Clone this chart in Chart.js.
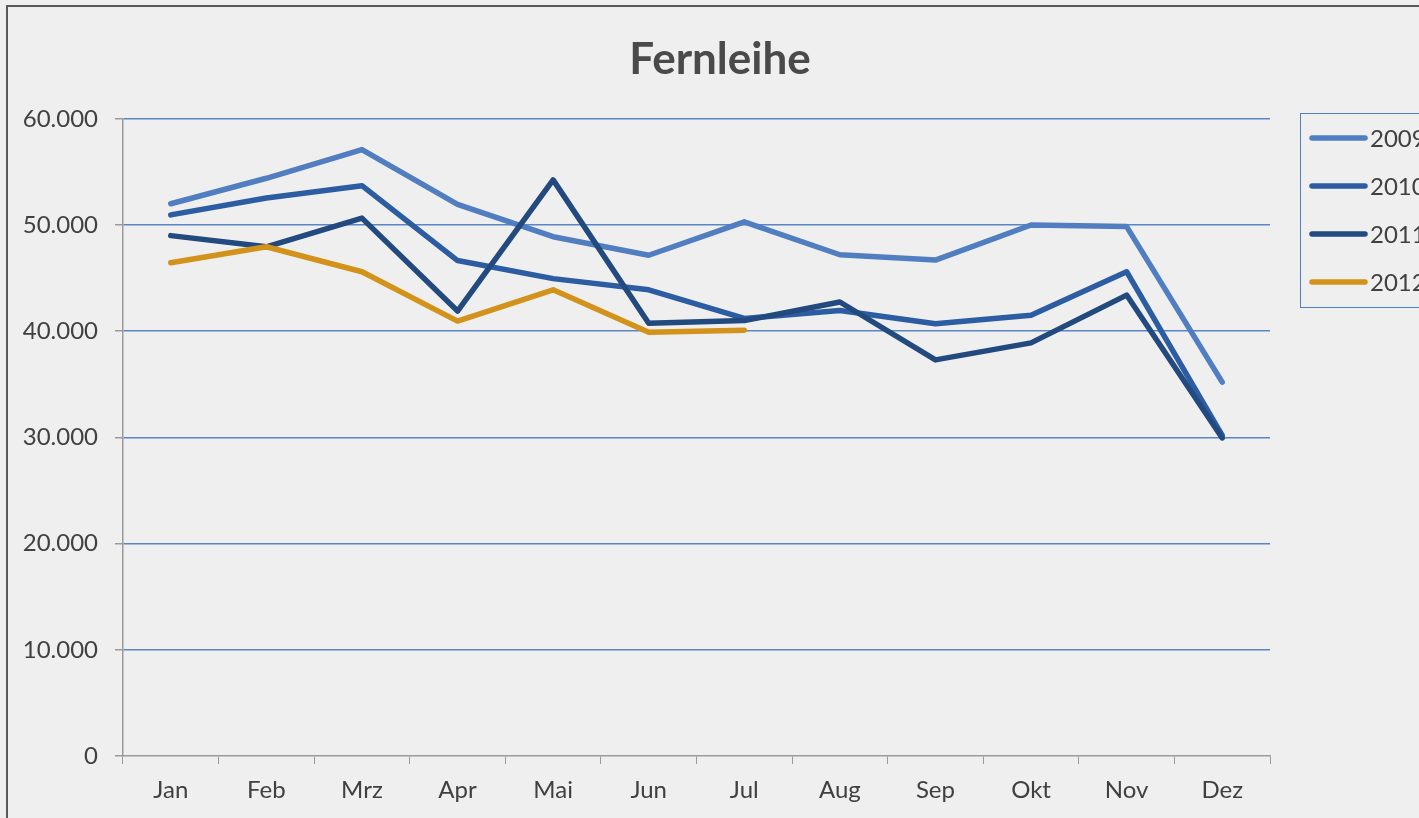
<!DOCTYPE html>
<html>
<head>
<meta charset="utf-8">
<title>Fernleihe</title>
<script src="https://cdn.jsdelivr.net/npm/chart.js@4.4.0/dist/chart.umd.min.js"></script>
<style>
    html, body { margin: 0; padding: 0; background: #efefef; overflow: hidden; }
    #wrap { position: absolute; left: 0; top: 0; width: 1440px; height: 830px; }
</style>
</head>
<body>
<div id="wrap"><canvas id="chart" width="1440" height="830"></canvas></div>
<script>
// --- Data ---
const months = ['Jan', 'Feb', 'Mrz', 'Apr', 'Mai', 'Jun', 'Jul', 'Aug', 'Sep', 'Okt', 'Nov', 'Dez'];
const seriesNames = ['2009', '2010', '2011', '2012'];
const values2009 = [52000, 54400, 57100, 51950, 48900, 47150, 50300, 47200, 46700, 50000, 49850, 35200];
const values2010 = [50950, 52550, 53700, 46650, 44950, 43900, 41200, 41950, 40700, 41500, 45600, 30200];
const values2011 = [49000, 47950, 50650, 41900, 54250, 40750, 41000, 42750, 37300, 38900, 43400, 29950];
const values2012 = [46450, 47950, 45600, 40950, 43900, 39900, 40100, null, null, null, null, null];
const yTicks = [0, 10000, 20000, 30000, 40000, 50000, 60000];

const seriesColors = ['#517ec1', '#2c5da3', '#234a7e', '#d3921a'];
const fontFamily = "Lato, 'Open Sans', 'Liberation Sans', sans-serif";
const textColor = '#404040';
const axisGray = '#9a9a9a';
const gridBlue = '#5a85c4';

// German thousands separator
const formatDe = (v) => String(v).replace(/\B(?=(\d{3})+(?!\d))/g, '.');

// --- Plugins ---
const frameAndLegend = {
    id: 'frameAndLegend',
    beforeDraw(chart) {
        const ctx = chart.ctx;
        ctx.save();
        ctx.fillStyle = '#efefef';
        ctx.fillRect(0, 0, chart.width, chart.height);
        ctx.strokeStyle = '#595959';
        ctx.lineWidth = 2;
        ctx.strokeRect(7, 6, chart.width + 20, chart.height + 20);
        ctx.restore();
    },
    afterDraw(chart) {
        // legend on the right, partly cut off by the window
        const ctx = chart.ctx;
        const left = 1300, top = 113;
        ctx.save();
        ctx.strokeStyle = '#4f81bd';
        ctx.lineWidth = 1;
        ctx.strokeRect(left + 0.5, top + 0.5, 200, 194);
        ctx.font = `24px ${fontFamily}`;
        ctx.textBaseline = 'middle';
        ctx.textAlign = 'left';
        chart.data.datasets.forEach((ds, i) => {
            const y = top + 25 + i * 48;
            ctx.strokeStyle = ds.borderColor;
            ctx.lineWidth = 5.5;
            ctx.lineCap = 'round';
            ctx.beginPath();
            ctx.moveTo(left + 12, y);
            ctx.lineTo(left + 65, y);
            ctx.stroke();
            ctx.fillStyle = textColor;
            ctx.fillText(ds.label, left + 70, y + 1);
        });
        ctx.restore();
    }
};

const allValues = [values2009, values2010, values2011, values2012];

new Chart(document.getElementById('chart'), {
    type: 'line',
    data: {
        labels: months,
        datasets: seriesNames.map((name, i) => ({
            label: name,
            data: allValues[i],
            borderColor: seriesColors[i],
            backgroundColor: seriesColors[i],
            borderWidth: 5.5,
            borderCapStyle: 'round',
            borderJoinStyle: 'round',
            pointRadius: 0,
            tension: 0,
            fill: false,
            spanGaps: false,
            order: seriesNames.length - i
        }))
    },
    options: {
        responsive: false,
        animation: false,
        devicePixelRatio: 1,
        layout: { padding: 0 },
        plugins: {
            legend: { display: false },
            tooltip: { enabled: false },
            title: {
                display: true,
                text: 'Fernleihe',
                color: '#4a4a4a',
                font: { family: fontFamily, size: 44, weight: 'bold', lineHeight: 1.2 },
                padding: { top: 33, bottom: 33 }
            }
        },
        scales: {
            x: {
                offset: true,
                grid: {
                    offset: true,
                    drawOnChartArea: false,
                    color: axisGray,
                    tickColor: axisGray,
                    tickLength: 8
                },
                border: { color: axisGray, width: 1.5 },
                ticks: {
                    color: textColor,
                    font: { family: fontFamily, size: 24 },
                    padding: 12,
                    maxRotation: 0
                },
                afterFit(scale) { scale.height = 74; }
            },
            y: {
                min: 0,
                max: 60000,
                afterBuildTicks(scale) { scale.ticks = yTicks.map(v => ({ value: v })); },
                grid: {
                    color: (c) => (c.tick && c.tick.value === 0) ? 'rgba(0,0,0,0)' : gridBlue,
                    tickColor: axisGray,
                    tickLength: 8,
                    lineWidth: 1.5
                },
                border: { color: axisGray, width: 1.5 },
                ticks: {
                    color: textColor,
                    font: { family: fontFamily, size: 24 },
                    padding: 17,
                    callback: (v) => formatDe(v)
                },
                afterFit(scale) { scale.width = 123; }
            },
            legendSpace: {
                type: 'linear',
                position: 'right',
                grid: { display: false },
                border: { display: false },
                ticks: { display: false },
                afterFit(scale) { scale.width = 170; }
            }
        }
    },
    plugins: [frameAndLegend]
});
</script>
</body>
</html>
